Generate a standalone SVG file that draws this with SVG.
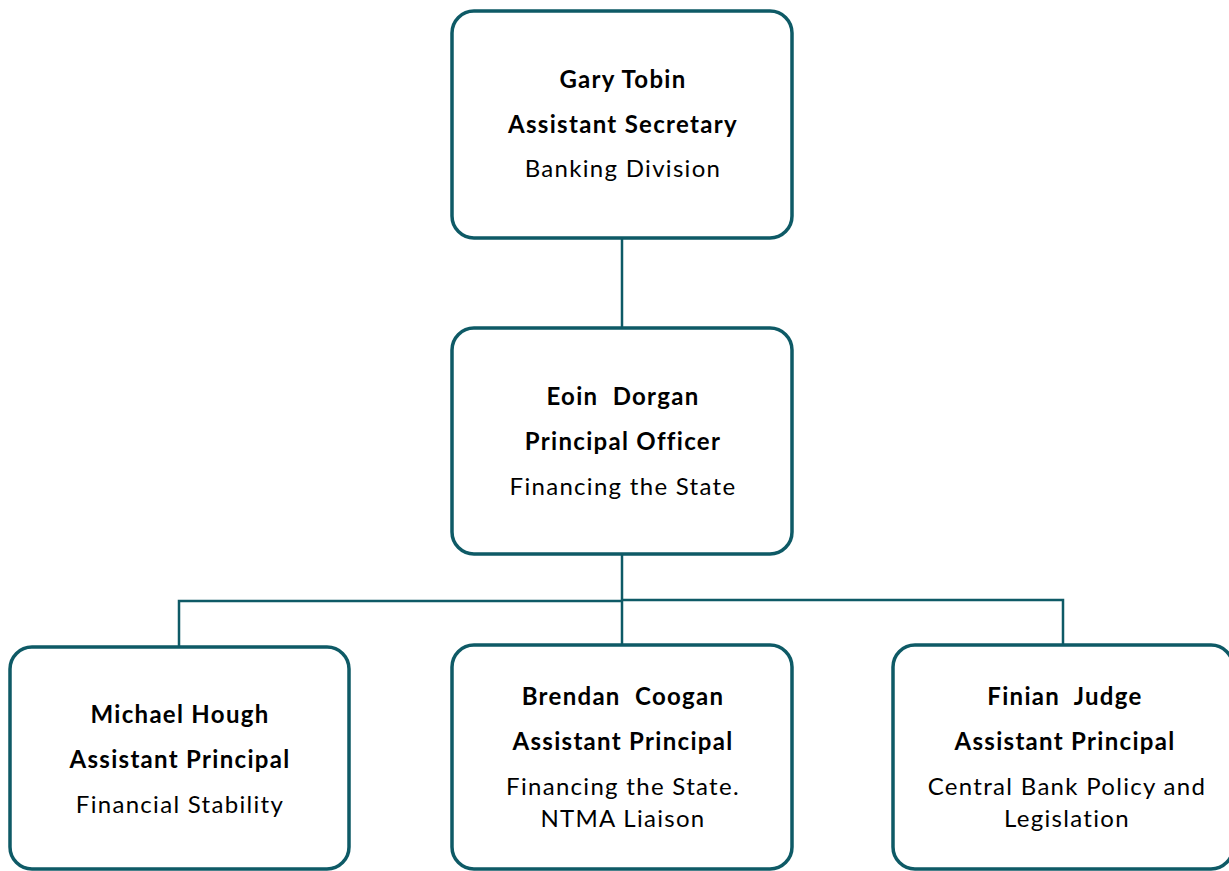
<svg xmlns="http://www.w3.org/2000/svg" width="1229" height="871" viewBox="0 0 1229 871">
<style>
.box{fill:#fff;stroke:#0e5a66;stroke-width:3.5}
.ln{fill:none;stroke:#0e5a66;stroke-width:2.5}
text{font-family:Lato,"Open Sans",sans-serif;font-size:24px;fill:#000;text-anchor:middle;letter-spacing:1.3px}
.b{font-weight:bold}
</style>
<rect width="1229" height="871" fill="#fff"/>
<g id="connectors">
<path class="ln" d="M622 238V328"/>
<path class="ln" d="M622 554V645"/>
<path class="ln" d="M179 647V601H622"/>
<path class="ln" d="M622 600H1063V645"/>
</g>
<g id="n-tobin">
<rect class="box" x="452" y="11" width="340" height="227" rx="22"/>
<text class="b" x="623" y="88">Gary Tobin</text>
<text class="b" x="623" y="133">Assistant Secretary</text>
<text x="623" y="177">Banking Division</text>
</g>
<g id="n-dorgan">
<rect class="box" x="452" y="328" width="340" height="226" rx="22"/>
<text class="b" x="623" y="405" xml:space="preserve">Eoin  Dorgan</text>
<text class="b" x="623" y="450">Principal Officer</text>
<text x="623" y="495">Financing the State</text>
</g>
<g id="n-hough">
<rect class="box" x="10" y="647" width="339" height="222" rx="22"/>
<text class="b" x="180" y="723">Michael Hough</text>
<text class="b" x="180" y="768">Assistant Principal</text>
<text x="180" y="813">Financial Stability</text>
</g>
<g id="n-coogan">
<rect class="box" x="452" y="645" width="340" height="224" rx="22"/>
<text class="b" x="623" y="705" xml:space="preserve">Brendan  Coogan</text>
<text class="b" x="623" y="750">Assistant Principal</text>
<text x="623" y="795">Financing the State.</text>
<text x="623" y="827">NTMA Liaison</text>
</g>
<g id="n-judge">
<rect class="box" x="893" y="645" width="340" height="224" rx="22"/>
<text class="b" x="1065" y="705" xml:space="preserve">Finian  Judge</text>
<text class="b" x="1065" y="750">Assistant Principal</text>
<text x="1067" y="795">Central Bank Policy and</text>
<text x="1067" y="827">Legislation</text>
</g>
</svg>
